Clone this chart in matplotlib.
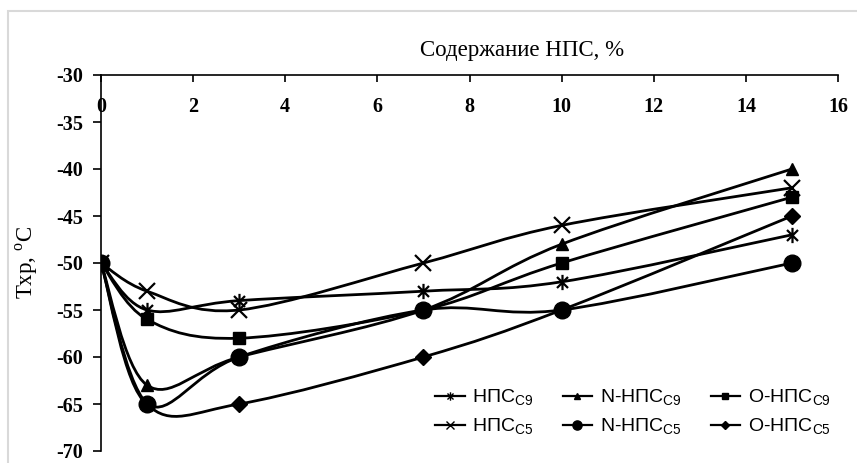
import matplotlib
matplotlib.use("Agg")
import matplotlib.pyplot as plt
import numpy as np
from matplotlib.path import Path
from matplotlib.patches import PathPatch, Rectangle
from matplotlib.lines import Line2D

plt.rcParams["axes.unicode_minus"] = False

# content of НПС, %
x = [0, 1, 3, 7, 10, 15]

nps_c9 = [-50, -55, -54, -53, -52, -47]
n_nps_c9 = [-50, -63, -60, -55, -48, -40]
o_nps_c9 = [-50, -56, -58, -55, -50, -43]
nps_c5 = [-50, -53, -55, -50, -46, -42]
n_nps_c5 = [-50, -65, -60, -55, -55, -50]
o_nps_c5 = [-50, -65, -65, -60, -55, -45]

x_ticks = [0, 2, 4, 6, 8, 10, 12, 14, 16]
y_ticks = [-30, -35, -40, -45, -50, -55, -60, -65, -70]

# excel-like asterisk marker (x + vertical bar)
d = 0.72
asterisk = Path([(0, -1), (0, 1), (-d, -d), (d, d), (-d, d), (d, -d)],
                [Path.MOVETO, Path.LINETO, Path.MOVETO, Path.LINETO, Path.MOVETO, Path.LINETO])

series = [
    ("НПС$_{\\mathregular{C9}}$", nps_c9, asterisk, 11),
    ("НПС$_{\\mathregular{C5}}$", nps_c5, "x", 11),
    ("N-НПС$_{\\mathregular{C9}}$", n_nps_c9, "^", 9),
    ("N-НПС$_{\\mathregular{C5}}$", n_nps_c5, "o", 12),
    ("O-НПС$_{\\mathregular{C9}}$", o_nps_c9, "s", 9),
    ("O-НПС$_{\\mathregular{C5}}$", o_nps_c5, "D", 8),
]


def smooth_path(xs, ys):
    # catmull-rom style bezier like excel "smoothed line"
    pts = np.column_stack([xs, ys]).astype(float)
    n = len(pts)
    verts = [pts[0]]
    codes = [Path.MOVETO]
    for i in range(n - 1):
        p0 = pts[max(i - 1, 0)]
        p1 = pts[i]
        p2 = pts[i + 1]
        p3 = pts[min(i + 2, n - 1)]
        c1 = p1 + (p2 - p0) / 6.0
        c2 = p2 - (p3 - p1) / 6.0
        verts += [c1, c2, p2]
        codes += [Path.CURVE4] * 3
    return Path(verts, codes)


fig = plt.figure(figsize=(8.57, 4.63), dpi=100)
fig.patches.append(Rectangle((8 / 857, -0.1), 1.2, 1.1 - 11 / 463, transform=fig.transFigure,
                             fill=False, edgecolor="#d9d9d9", linewidth=1.5, zorder=0))

ax = fig.add_axes([101 / 857, 1 - 451 / 463, 737 / 857, 376 / 463])

handles = []
for label, y, mk, ms in series:
    ax.add_patch(PathPatch(smooth_path(x, y), facecolor="none", edgecolor="black",
                           linewidth=2.0, zorder=2))
    mew = 1.6 if mk in ("x",) or isinstance(mk, Path) else 1
    ax.plot(x, y, linestyle="none", marker=mk, markersize=ms, color="black",
            markeredgewidth=mew, zorder=3)
    handles.append(Line2D([], [], color="black", linewidth=1.6, marker=mk,
                          markersize=ms * 0.55, markeredgewidth=1, label=label))

ax.set_xlim(0, 16)
ax.set_ylim(-70, -30)
ax.set_xticks(x_ticks)
ax.set_yticks(y_ticks)

ax.spines["right"].set_visible(False)
ax.spines["bottom"].set_visible(False)
ax.spines["top"].set_linewidth(1.2)
ax.spines["left"].set_linewidth(1.2)

ax.tick_params(axis="x", top=True, bottom=False, labeltop=True, labelbottom=False,
               direction="in", length=5, width=1.2, pad=-30)
ax.tick_params(axis="y", direction="out", length=6, width=1.2, pad=7)
for t in ax.get_xticklabels() + ax.get_yticklabels():
    t.set_fontfamily("Liberation Serif")
    t.set_fontweight("bold")
    t.set_fontsize(14.5)

ax.set_title("Содержание НПС, %", fontfamily="Liberation Serif", fontsize=16.5,
             x=0.571, pad=14)
fig.text(27 / 857, 1 - 262 / 463, "Тхр, $^{\\mathregular{o}}$C", rotation=90,
         fontfamily="Liberation Serif", fontsize=16.5, ha="center", va="center")

leg = ax.legend(handles=handles, ncol=3, frameon=False, loc="center",
                bbox_to_anchor=(633 / 857, 1 - 412 / 463), bbox_transform=fig.transFigure,
                prop={"family": "Liberation Sans", "size": 14},
                handlelength=1.5, handletextpad=0.4, columnspacing=1.5, labelspacing=0.45)

fig.savefig("out.png", dpi=100)
